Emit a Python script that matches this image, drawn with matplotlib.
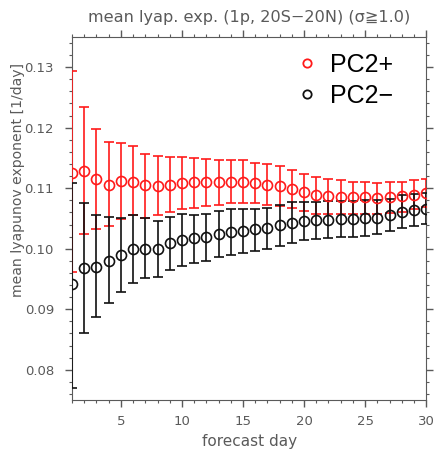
import numpy as np
import matplotlib
matplotlib.use("Agg")
from matplotlib import pyplot as plt
from matplotlib.lines import Line2D
from matplotlib.ticker import MultipleLocator

# forecast days
days = np.arange(1, 31)

# PC2+ (red): mean, upper and lower ends of error bar
pos_mean = [0.1125, 0.1128, 0.1116, 0.1105, 0.1112, 0.1111, 0.1105, 0.1104, 0.1105, 0.1108,
            0.1110, 0.1111, 0.1110, 0.1111, 0.1111, 0.1109, 0.1106, 0.1103, 0.1098, 0.1093,
            0.1089, 0.1087, 0.1085, 0.1085, 0.1085, 0.1084, 0.1085, 0.1087, 0.1089, 0.1092]
pos_hi = [0.1294, 0.1235, 0.1198, 0.1176, 0.1174, 0.1169, 0.1156, 0.1154, 0.1152, 0.1151,
          0.1150, 0.1149, 0.1147, 0.1147, 0.1146, 0.1142, 0.1140, 0.1136, 0.1130, 0.1123,
          0.1119, 0.1115, 0.1114, 0.1111, 0.1111, 0.1109, 0.1110, 0.1111, 0.1113, 0.1115]
pos_lo = [0.0961, 0.1024, 0.1033, 0.1037, 0.1049, 0.1055, 0.1051, 0.1056, 0.1061, 0.1066,
          0.1067, 0.1070, 0.1073, 0.1075, 0.1076, 0.1075, 0.1073, 0.1070, 0.1067, 0.1062,
          0.1058, 0.1057, 0.1057, 0.1057, 0.1057, 0.1057, 0.1059, 0.1061, 0.1065, 0.1069]

# PC2- (black)
neg_mean = [0.0941, 0.0968, 0.0970, 0.0980, 0.0989, 0.0999, 0.0999, 0.1000, 0.1009, 0.1014,
            0.1017, 0.1019, 0.1024, 0.1028, 0.1030, 0.1032, 0.1034, 0.1039, 0.1042, 0.1046,
            0.1047, 0.1048, 0.1049, 0.1049, 0.1050, 0.1051, 0.1055, 0.1060, 0.1064, 0.1066]
neg_hi = [0.1109, 0.1075, 0.1055, 0.1052, 0.1050, 0.1055, 0.1050, 0.1046, 0.1053, 0.1057,
          0.1056, 0.1058, 0.1062, 0.1066, 0.1066, 0.1066, 0.1068, 0.1072, 0.1077, 0.1077,
          0.1078, 0.1079, 0.1079, 0.1079, 0.1080, 0.1080, 0.1083, 0.1088, 0.1090, 0.1092]
neg_lo = [0.0770, 0.0860, 0.0888, 0.0910, 0.0929, 0.0944, 0.0952, 0.0954, 0.0965, 0.0972,
          0.0977, 0.0980, 0.0986, 0.0990, 0.0993, 0.0996, 0.0999, 0.1005, 0.1010, 0.1014,
          0.1016, 0.1017, 0.1019, 0.1020, 0.1021, 0.1024, 0.1029, 0.1034, 0.1038, 0.1041]

ytick_vals = [0.08, 0.09, 0.10, 0.11, 0.12, 0.13]
ytick_labels = ["0.08", "0.09", "0.10", "0.11", "0.12", "0.13"]

grey = "#5a5a5a"
red = "#ff1a1a"
black = "#111111"
plt.rcParams['font.family'] = ['DejaVu Sans', 'Noto Sans CJK JP']

fig = plt.figure(figsize=(4.34, 4.50), dpi=100)
ax = fig.add_axes([0.166, 0.111, 0.816, 0.807])


def draw(mean, hi, lo, color):
    mean = np.array(mean)
    err = [mean - np.array(lo), np.array(hi) - mean]
    ax.errorbar(days, mean, yerr=err, fmt='o', mfc='none', mec=color, ms=7.2, mew=1.2,
                ecolor=color, elinewidth=1.2, capsize=3.5, capthick=1.2, zorder=3)


draw(pos_mean, pos_hi, pos_lo, red)
draw(neg_mean, neg_hi, neg_lo, black)

ax.set_xlim(1, 30)
ax.set_ylim(0.075, 0.135)
ax.xaxis.set_major_locator(MultipleLocator(5))
ax.xaxis.set_minor_locator(MultipleLocator(1))
ax.yaxis.set_minor_locator(MultipleLocator(0.002))
ax.set_yticks(ytick_vals)
ax.set_yticklabels(ytick_labels)
ax.tick_params(which='both', direction='out', top=True, right=True, color=grey,
               labelcolor=grey, labelsize=9.5)
ax.tick_params(which='major', length=5, width=1)
ax.tick_params(which='minor', length=2.5, width=0.8)
ax.tick_params(axis='y', which='major', pad=8)
ax.tick_params(axis='x', which='major', pad=6)
for s in ax.spines.values():
    s.set_color(grey)

ax.set_xlabel("forecast day", color=grey, fontsize=11)
ax.set_ylabel("mean lyapunov exponent [1/day]", color=grey, fontsize=10.1)
ax.yaxis.set_label_coords(-0.133, 0.606)
ax.set_title("mean lyap. exp. (1p, 20S\u221220N) (\u03c3\u22671.0)", color=grey,
             fontsize=11.6, pad=11)

handles = [Line2D([], [], ls='none', marker='o', mfc='none', mec=red, ms=6, mew=1.3),
           Line2D([], [], ls='none', marker='o', mfc='none', mec=black, ms=6, mew=1.3)]
ax.legend(handles, ["PC2+", "PC2\u2212"], loc='upper left', bbox_to_anchor=(0.629, 0.957),
          frameon=False, prop={'family': 'Liberation Sans', 'size': 18},
          handletextpad=0.4, labelspacing=0.28, handlelength=1.0,
          borderpad=0, borderaxespad=0)

plt.savefig("out.png", dpi=100)
